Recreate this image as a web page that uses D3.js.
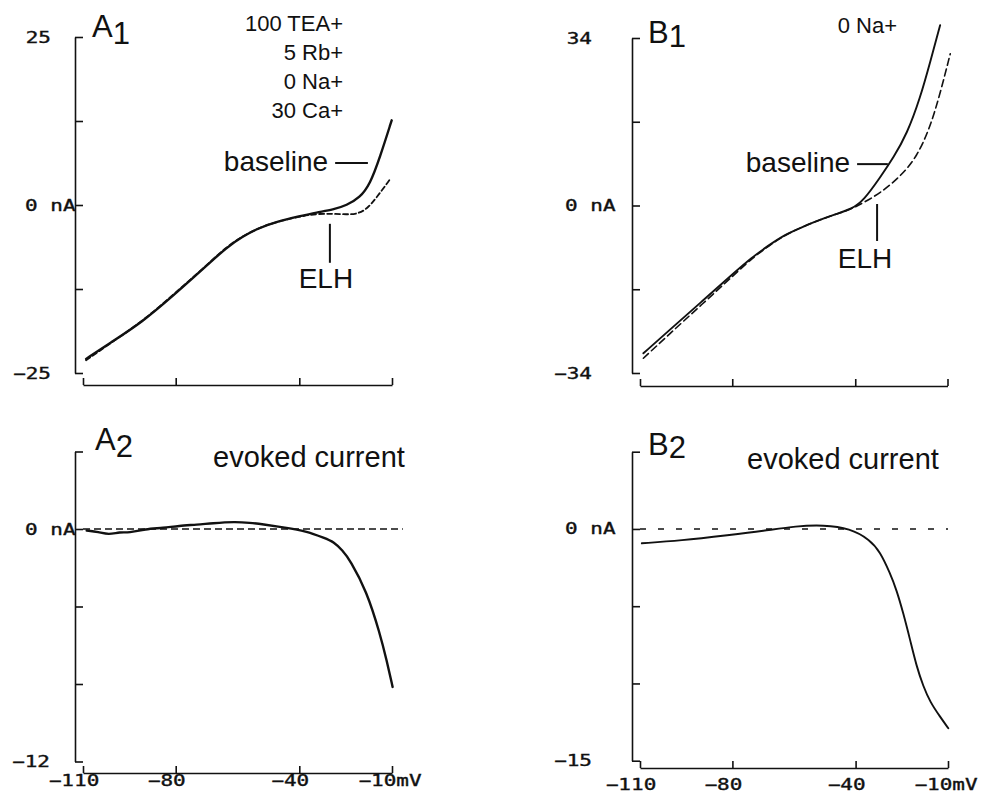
<!DOCTYPE html>
<html>
<head>
<meta charset="utf-8">
<script src="https://cdn.jsdelivr.net/npm/d3@7"></script>
<style>
  html, body { margin: 0; padding: 0; background: #fff; }
  svg { display: block; }
  .ann { font-family: "Liberation Sans", Arial, Helvetica, sans-serif; fill: #111; }
  .tick-label { font-family: "DejaVu Sans Mono", monospace; font-size: 15px; fill: #111; stroke: #111; stroke-width: 0.35px; }
</style>
</head>
<body>
<svg id="chart" width="1000" height="794"></svg>
<script>
// ---- Voltage axis (shared by all four panels) ----
const voltageTicks = [-110, -80, -40, -10];
const voltageLabels = ["\u2212110", "\u221280", "\u221240", "\u221210mV"];

// ---- Current axis ticks (nA) ----
const a1YTicks = [-25, -12.5, 0, 12.5, 25];
const a1YLabels = ["\u221225", "", "0 nA", "", "25"];
const b1YTicks = [-34, -17, 0, 17, 34];
const b1YLabels = ["\u221234", "", "0 nA", "", "34"];
const a2YTicks = [-12, -8, -4, 0, 4];
const a2YLabels = ["\u221212", "", "", "0 nA", ""];
const b2YTicks = [-15, -10, -5, 0, 5];
const b2YLabels = ["\u221215", "", "", "0 nA", ""];

// ---- A1: I-V ramps, 100 TEA / 5 Rb / 0 Na / 30 Ca ----
const a1BaselineV = [-109, -101.5, -90.7, -79.9, -74.5, -69.1, -63.7, -58.3, -52.9, -47.5, -39.8, -34.4, -29, -24.7, -20.4, -17.1, -13.9, -10.1];
const a1BaselineI = [-22.9, -20.6, -17.4, -13.1, -10.9, -8.65, -6.4, -4.65, -3.4, -2.5, -1.65, -1.1, -0.7, -0.05, 1.1, 3.1, 7.1, 12.6];
const a1ElhV = [-109, -101.5, -90.7, -79.9, -74.5, -69.1, -63.7, -58.3, -52.9, -47.5, -39.8, -34.4, -29, -24.7, -21.4, -18.2, -15, -10.6];
const a1ElhI = [-23.1, -20.7, -17.3, -13.0, -10.8, -8.6, -6.3, -4.6, -3.4, -2.5, -1.7, -1.3, -1.3, -1.4, -1.35, -0.65, 1.1, 3.85];

// ---- B1: I-V ramps, 0 Na ----
const b1BaselineV = [-108.9, -100.8, -89.9, -79.1, -73.7, -68.2, -62.8, -57.4, -51.9, -46.5, -41.1, -37.3, -31.9, -27.6, -23.2, -18.9, -15.6, -12.4];
const b1BaselineI = [-30.0, -25.5, -19.5, -13.5, -10.6, -8.1, -5.9, -4.4, -3.0, -1.8, -0.7, 1.0, 5.7, 9.7, 14.5, 21.8, 29.2, 36.6];
const b1ElhV = [-108.9, -100.8, -89.9, -79.1, -73.7, -68.2, -62.8, -57.4, -51.9, -46.5, -41.1, -37.3, -31.9, -25.3, -19.9, -15.6, -12.4, -9.1];
const b1ElhI = [-31.0, -26.3, -20.1, -13.9, -10.8, -8.2, -6.0, -4.4, -3.0, -1.8, -0.7, 0.6, 2.5, 5.9, 9.9, 16.0, 22.7, 30.8];

// ---- A2 / B2: ELH-evoked difference currents ----
const a2EvokedV = [-108.8, -105, -101.7, -98, -95.2, -89.8, -84, -79, -73, -68.3, -60.7, -56, -52.1, -44.5, -38, -31.6, -29, -26, -23.6, -18.2, -13.9, -11.7, -9.8];
const a2EvokedI = [-0.08, -0.15, -0.3, -0.15, -0.2, 0, 0.05, 0.17, 0.22, 0.3, 0.38, 0.32, 0.25, 0.07, -0.1, -0.48, -0.65, -1.1, -1.6, -3.2, -5.4, -6.8, -8.15];
const b2EvokedV = [-109.4, -97, -80.8, -70, -59.1, -50.5, -41.8, -35.3, -32.1, -28.8, -26.7, -24.5, -22.3, -20.2, -18, -15.8, -12.6, -9.9];
const b2EvokedI = [-0.93, -0.76, -0.39, -0.13, 0.19, 0.26, 0.04, -0.71, -1.47, -2.87, -3.95, -5.46, -7.18, -8.9, -10.2, -11.2, -12.15, -12.9];

// zero-current reference lines (voltage extent)
const a2ZeroLineV = [-110, -6.5];
const b2ZeroLineV = [-110, -10];

// solution notes
const a1Solution = ["100 TEA+", "5 Rb+", "0 Na+", "30 Ca+"];
const b1Solution = ["0 Na+"];

const zip = (vs, is) => vs.map((v, k) => ({ v, i: is[k] }));

const panels = [
  {
    letter: "A", sub: "1", axisX: 75, yTop: 37, yBottom: 373, xAxisY: 385, xLeft: 83, xRight: 392,
    yDomain: [-25, 25], yTicks: a1YTicks, yLabels: a1YLabels, numEnd: 51, zeroStart: 25,
    title: { dx: 17, y: 37, subDy: 7 }, xLabelsY: null,
    traces: [
      { data: zip(a1BaselineV, a1BaselineI), dash: null, width: 2.4 },
      { data: zip(a1ElhV, a1ElhI), dash: "5,3", width: 1.8 }
    ],
    notes: { baseline: { v0: -28.4, v1: -17.8, i: 6.25, textY: 8 }, elh: { v: -30.1, i0: -2.8, i1: -8.6, dx: -4, textDy: 25 } },
    solution: { lines: a1Solution, x: 343, y0: 31, step: 29 }
  },
  {
    letter: "B", sub: "1", axisX: 632, yTop: 38, yBottom: 373, xAxisY: 386, xLeft: 640, xRight: 947.5,
    yDomain: [-34, 34], yTicks: b1YTicks, yLabels: b1YLabels, numEnd: 592, zeroStart: 565,
    title: { dx: 16, y: 43, subDy: 4 }, xLabelsY: null,
    traces: [
      { data: zip(b1BaselineV, b1BaselineI), dash: null, width: 1.9 },
      { data: zip(b1ElhV, b1ElhI), dash: "7,4", width: 1.6 }
    ],
    notes: { baseline: { v0: -39.4, v1: -29.4, i: 8.4, textY: 8 }, elh: { v: -32.9, i0: 0.3, i1: -7.2, dx: -12, textDy: 27 } },
    solution: { lines: b1Solution, x: 897, y0: 33, step: 29 }
  },
  {
    letter: "A", sub: "2", axisX: 75, yTop: 451.5, yBottom: 761.5, xAxisY: 773, xLeft: 83, xRight: 392,
    yDomain: [-12, 4], yTicks: a2YTicks, yLabels: a2YLabels, numEnd: 50, zeroStart: 25,
    title: { dx: 20, y: 450, subDy: 7 }, xLabelsY: 786,
    zeroLine: { v: a2ZeroLineV, dash: "7,4" },
    traces: [ { data: zip(a2EvokedV, a2EvokedI), dash: null, width: 2.4 } ],
    caption: { text: "evoked current", x: 213, y: 467 }
  },
  {
    letter: "B", sub: "2", axisX: 632, yTop: 451.7, yBottom: 760.7, xAxisY: 768, xLeft: 640, xRight: 948,
    yDomain: [-15, 5], yTicks: b2YTicks, yLabels: b2YLabels, numEnd: 592, zeroStart: 565,
    title: { dx: 16, y: 455, subDy: 3 }, xLabelsY: 790,
    zeroLine: { v: b2ZeroLineV, dash: "6,12" },
    traces: [ { data: zip(b2EvokedV, b2EvokedI), dash: null, width: 1.9 } ],
    caption: { text: "evoked current", x: 747, y: 469 }
  }
];

const svg = d3.select("#chart");
const INK = "#111";
const MONO_STRETCH = 1.4;

// plotter-style numerals: monospace glyphs stretched horizontally
function monoLabel(parent, x, y, text, anchor) {
  parent.append("g")
    .attr("transform", `translate(${x},${y}) scale(${MONO_STRETCH},1)`)
    .append("text")
    .attr("class", "tick-label")
    .attr("text-anchor", anchor)
    .text(text);
}

panels.forEach(p => {
  const g = svg.append("g");
  const x = d3.scaleLinear().domain([-110, -10]).range([p.xLeft, p.xRight]);
  const y = d3.scaleLinear().domain(p.yDomain).range([p.yBottom, p.yTop]);

  // current axis, ticks pointing into the plot
  const yAxis = g.append("g")
    .attr("transform", `translate(${p.axisX},0)`)
    .call(d3.axisRight(y).tickValues(p.yTicks).tickSize(8).tickSizeOuter(0).tickFormat(""));
  yAxis.selectAll("path, line").attr("stroke", INK).attr("stroke-width", 1.6);

  p.yTicks.forEach((t, k) => {
    const lab = p.yLabels[k];
    if (!lab) return;
    if (t === 0) monoLabel(g, p.zeroStart, y(t) + 5.5, lab, "start");
    else monoLabel(g, p.numEnd, y(t) + 5.5, lab, "end");
  });

  // voltage axis, ticks pointing up
  const xAxis = g.append("g")
    .attr("transform", `translate(0,${p.xAxisY})`)
    .call(d3.axisTop(x).tickValues(voltageTicks).tickSize(7).tickSizeOuter(0).tickFormat(""));
  xAxis.selectAll("path, line").attr("stroke", INK).attr("stroke-width", 1.6);

  if (p.xLabelsY !== null) {
    voltageTicks.forEach((t, k) => {
      const off = k === voltageTicks.length - 1 ? -2 : -9;
      monoLabel(g, x(t) + off, p.xLabelsY, voltageLabels[k], "middle");
    });
  }

  // panel letter with lowered index
  const title = g.append("text").attr("class", "ann")
    .attr("x", p.axisX + p.title.dx).attr("y", p.title.y)
    .style("font-size", "31px");
  title.append("tspan").text(p.letter);
  title.append("tspan").attr("dy", p.title.subDy).text(p.sub);

  // zero-current reference
  if (p.zeroLine) {
    g.append("line")
      .attr("x1", x(p.zeroLine.v[0])).attr("x2", x(p.zeroLine.v[1]))
      .attr("y1", y(0)).attr("y2", y(0))
      .attr("stroke", INK).attr("stroke-width", 1.6)
      .attr("stroke-dasharray", p.zeroLine.dash);
  }

  const line = d3.line()
    .x(d => x(d.v)).y(d => y(d.i))
    .curve(d3.curveBasis);

  p.traces.forEach(tr => {
    g.append("path")
      .datum(tr.data)
      .attr("d", line)
      .attr("fill", "none")
      .attr("stroke", INK)
      .attr("stroke-width", tr.width)
      .attr("stroke-linejoin", "round")
      .attr("stroke-linecap", "round")
      .attr("stroke-dasharray", tr.dash);
  });

  // trace labels with pointer strokes
  if (p.notes) {
    const b = p.notes.baseline;
    g.append("line")
      .attr("x1", x(b.v0)).attr("x2", x(b.v1))
      .attr("y1", y(b.i)).attr("y2", y(b.i))
      .attr("stroke", INK).attr("stroke-width", 2);
    g.append("text").attr("class", "ann")
      .attr("x", x(b.v0) - 7).attr("y", y(b.i) + b.textY)
      .attr("text-anchor", "end")
      .style("font-size", "28px")
      .text("baseline");

    const e = p.notes.elh;
    g.append("line")
      .attr("x1", x(e.v)).attr("x2", x(e.v))
      .attr("y1", y(e.i0)).attr("y2", y(e.i1))
      .attr("stroke", INK).attr("stroke-width", 2);
    g.append("text").attr("class", "ann")
      .attr("x", x(e.v) + e.dx).attr("y", y(e.i1) + e.textDy)
      .attr("text-anchor", "middle")
      .style("font-size", "28px")
      .text("ELH");
  }

  if (p.solution) {
    p.solution.lines.forEach((s, k) => {
      g.append("text").attr("class", "ann")
        .attr("x", p.solution.x).attr("y", p.solution.y0 + k * p.solution.step)
        .attr("text-anchor", "end")
        .style("font-size", "22px")
        .text(s);
    });
  }

  if (p.caption) {
    g.append("text").attr("class", "ann")
      .attr("x", p.caption.x).attr("y", p.caption.y)
      .style("font-size", "29px")
      .text(p.caption.text);
  }
});
</script>
</body>
</html>
